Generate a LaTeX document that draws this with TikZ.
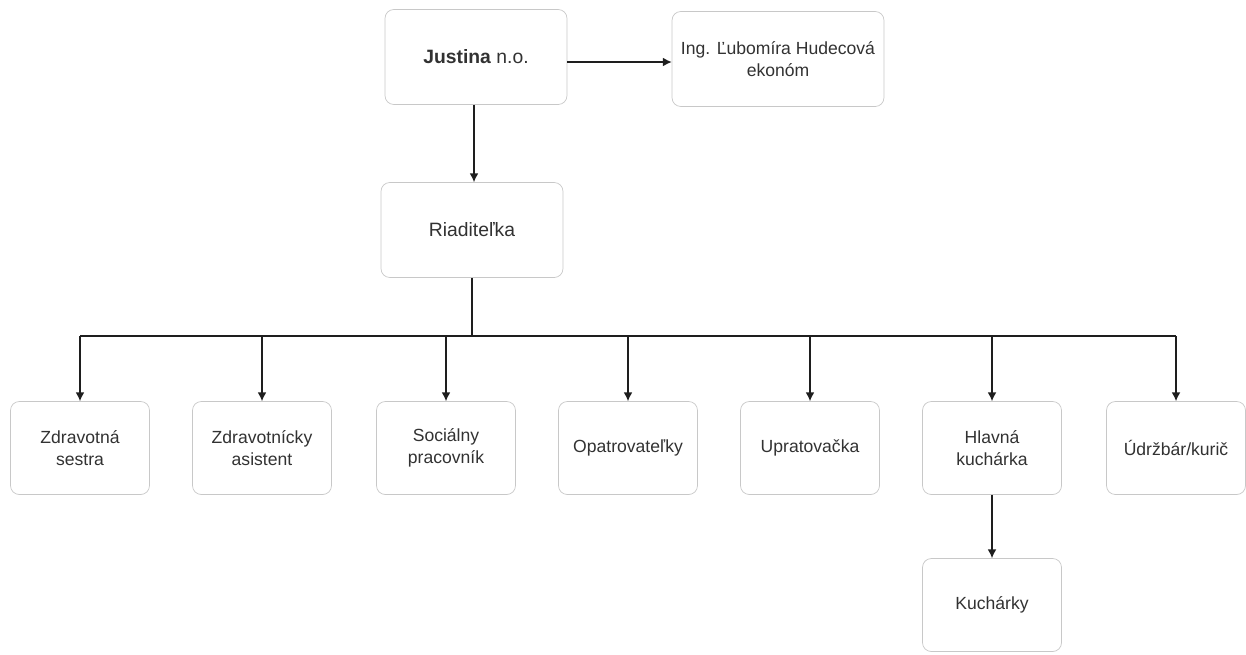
\documentclass[tikz,border=0pt]{standalone}
\usepackage{fontspec}
\setmainfont{Liberation Sans}
\usepackage{tikz}
\usetikzlibrary{arrows.meta, positioning}
\definecolor{boxline}{RGB}{200, 200, 200}
\definecolor{linkcolor}{RGB}{30, 30, 30}
\definecolor{textcolor}{RGB}{50, 50, 50}

\begin{document}
\begin{tikzpicture}[
    x=0.02cm, y=-0.02cm,
    topbox/.style={draw=boxline, fill=white, rounded corners=5pt, minimum width=3.64cm, minimum height=1.9cm, align=center, text=textcolor, font=\fontsize{11}{13.5}\selectfont},
    unit/.style={draw=boxline, fill=white, rounded corners=5pt, minimum width=2.78cm, minimum height=1.86cm, align=center, text=textcolor, font=\fontsize{10}{12.5}\selectfont},
    arrow/.style={-{Latex[length=5pt, width=5pt]}, linkcolor, line width=0.7pt}
]
    \useasboundingbox (0,0) rectangle (1246,654);

    % Top level
    \node[topbox] (justina) at (476, 57) {\textbf{Justina} n.o.};
    \node[topbox, minimum width=4.24cm, font=\fontsize{10}{12.5}\selectfont] (ekonom) at (778, 59) {Ing. Ľubomíra Hudecová\\ekonóm};

    % Director
    \node[topbox] (riad) at (472, 230) {Riaditeľka};

    % Units
    \node[unit] (sestra) at (80, 448) {Zdravotná\\sestra};
    \node[unit] (asist) at (262, 448) {Zdravotnícky\\asistent};
    \node[unit] (soc) at (446, 448) {Sociálny\\pracovník};
    \node[unit] (opatr) at (628, 448) {Opatrovateľky};
    \node[unit] (uprat) at (810, 448) {Upratovačka};
    \node[unit] (hlkuch) at (992, 448) {Hlavná\\kuchárka};
    \node[unit] (udrz) at (1176, 448) {Údržbár/kurič};

    % Kitchen staff
    \node[unit] (kuch) at (992, 605) {Kuchárky};

    % Bus
    \coordinate (bus) at (472, 336);

    % Connections
    \draw[arrow] (justina.east |- ekonom) ++(0,3) coordinate (jeast) -- (jeast -| ekonom.west);
    \draw[arrow] (justina.south) ++(-2,0) coordinate (jsouth) -- (jsouth |- riad.north);
    \draw[linkcolor, line width=0.7pt] (riad) -- (bus);
    \draw[linkcolor, line width=0.7pt] (sestra.north |- bus) -- (udrz.north |- bus);
    \draw[arrow] (sestra.north |- bus) -- (sestra);
    \draw[arrow] (asist.north |- bus) -- (asist);
    \draw[arrow] (soc.north |- bus) -- (soc);
    \draw[arrow] (opatr.north |- bus) -- (opatr);
    \draw[arrow] (uprat.north |- bus) -- (uprat);
    \draw[arrow] (hlkuch.north |- bus) -- (hlkuch);
    \draw[arrow] (udrz.north |- bus) -- (udrz);
    \draw[arrow] (hlkuch) -- (kuch);

\end{tikzpicture}
\end{document}
